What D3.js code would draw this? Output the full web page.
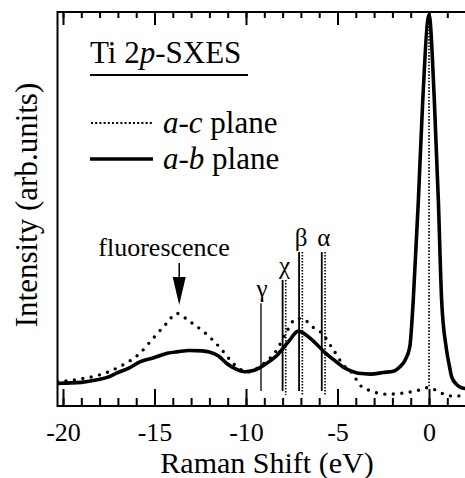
<!DOCTYPE html>
<html>
<head>
<meta charset="utf-8">
<script src="https://cdn.jsdelivr.net/npm/d3@7"></script>
<style>
  body { margin: 0; background: #fff; }
  svg { display: block; }
  text { font-family: "Liberation Serif", "Times New Roman", serif; fill: #000; }
</style>
</head>
<body>
<svg id="chart" width="465" height="478"></svg>
<script>
// a-b plane (solid)
const shiftAB = [-20.3, -20.0, -19.0, -18.2, -17.5, -17.1, -16.4, -15.8, -15.0, -14.3, -13.7, -13.1, -12.4, -12.0, -11.5,
  -11.05, -10.6, -10.05, -9.6, -9.15, -8.7, -8.3, -8.0, -7.6, -7.15, -6.8, -6.5, -6.1, -5.7, -5.2, -4.7, -4.2, -3.85,
  -3.2, -2.5, -1.9, -1.6, -1.3, -1.05, -0.86, -0.58, -0.34, 0, 0.29, 0.51, 0.69, 0.95, 1.1, 1.24, 1.5, 1.7, 2.05];
const intensityAB = [5.7, 5.8, 6.0, 6.6, 7.4, 8.3, 9.6, 11.2, 12.3, 13.4, 13.8, 14.1, 14.0, 13.7, 12.7,
  10.8, 9.5, 8.7, 9.0, 10.0, 11.4, 12.9, 14.5, 16.8, 19.0, 18.3, 17.2, 15.5, 13.6, 11.7, 9.9, 8.8, 8.3,
  8.1, 8.5, 8.9, 9.9, 11.7, 15.0, 26.9, 52.3, 77.7, 99.3, 77.7, 52.3, 26.9, 14.5, 10.5, 7.4, 5.5, 4.8, 4.4];

// a-c plane (dotted)
const shiftAC = [-20.3, -20.0, -18.9, -18.0, -16.9, -15.8, -15.07, -14.33, -13.8, -13.06, -12.33, -11.4, -10.78, -10.42,
  -9.87, -9.14, -8.32, -7.78, -7.23, -6.78, -6.14, -5.96, -5.22, -4.68, -4.2, -3.77, -3.22, -2.31, -1.22, -0.49, 0,
  0.6, 1.33, 2.05];
const intensityAC = [6.2, 6.3, 7.0, 7.9, 10.0, 13.4, 17.2, 21.0, 23.5, 21.4, 18.9, 14.7, 11.2, 9.6,
  8.7, 10.4, 14.2, 18.9, 22.3, 21.8, 19.3, 18.9, 14.2, 10.4, 8.4, 5.3, 3.9, 3.0, 3.4, 4.1, 4.7,
  3.4, 2.5, 2.8];

// marker lines
const markerNames = ['γ', 'χ', 'β', 'α'];
const markerShift = [-9.18, -8.0, -7.1, -5.86];
const markerDottedShift = [null, -7.83, -6.92, -5.68];
const markerTop = [26.1, 32.0, 39.1, 39.1];
const markerBottom = 3.8;

const majorTicks = [-20, -15, -10, -5, 0];
const minorTicks = d3.range(-20, 3, 1);
const xRangeShift = [-20.3, 2.1];

const svg = d3.select('#chart');
const width = +svg.attr('width');

const x = d3.scaleLinear().domain([-20, 0]).range([63, 429]);
const y = d3.scaleLinear().domain([0, 100]).range([406, 12]);

const plotLeft = x(xRangeShift[0]);
const plotRight = width + 2;
const plotTop = y(100);
const plotBottom = y(0);

svg.append('defs').append('clipPath').attr('id', 'plot-clip')
  .append('rect')
  .attr('x', plotLeft)
  .attr('y', plotTop - 4)
  .attr('width', plotRight - plotLeft)
  .attr('height', plotBottom - plotTop + 4);

const plot = svg.append('g').attr('clip-path', 'url(#plot-clip)');

// vertical dotted line at zero loss
plot.append('line')
  .attr('x1', x(0)).attr('x2', x(0))
  .attr('y1', y(98)).attr('y2', y(4.7))
  .attr('stroke', '#000')
  .attr('stroke-width', 1.6)
  .attr('stroke-dasharray', '1.6 1.6');

// marker lines
markerShift.forEach((s, i) => {
  plot.append('line')
    .attr('x1', x(s)).attr('x2', x(s))
    .attr('y1', y(markerTop[i])).attr('y2', y(markerBottom))
    .attr('stroke', '#000')
    .attr('stroke-width', i === 0 ? 1.3 : 1.8);
  if (markerDottedShift[i] !== null) {
    plot.append('line')
      .attr('x1', x(markerDottedShift[i])).attr('x2', x(markerDottedShift[i]))
      .attr('y1', y(markerTop[i])).attr('y2', y(markerBottom - 1))
      .attr('stroke', '#000')
      .attr('stroke-width', 1.6)
      .attr('stroke-dasharray', '1.5 1.5');
  }
  svg.append('text')
    .attr('x', x(s) + (i === 0 ? 1 : 2))
    .attr('y', y(markerTop[i]) - 6)
    .attr('text-anchor', 'middle')
    .style('font-size', '25px')
    .text(markerNames[i]);
});

const line = d3.line()
  .x(d => x(d[0]))
  .y(d => y(d[1]))
  .curve(d3.curveMonotoneX);

plot.append('path')
  .datum(d3.zip(shiftAC, intensityAC))
  .attr('d', line)
  .attr('fill', 'none')
  .attr('stroke', '#000')
  .attr('stroke-width', 3.4)
  .attr('stroke-linecap', 'round')
  .attr('stroke-dasharray', '0 8.5');

plot.append('path')
  .datum(d3.zip(shiftAB, intensityAB))
  .attr('d', line)
  .attr('fill', 'none')
  .attr('stroke', '#000')
  .attr('stroke-width', 3.6)
  .attr('stroke-linejoin', 'round');

// frame
svg.append('line')
  .attr('x1', plotLeft).attr('x2', plotLeft)
  .attr('y1', plotTop - 1).attr('y2', plotBottom + 1)
  .attr('stroke', '#000').attr('stroke-width', 2);

// axes, ticks pointing inward
const bottomMinor = d3.axisBottom(x).tickValues(minorTicks).tickSizeInner(-8).tickSizeOuter(0).tickFormat('');
const bottomMajor = d3.axisBottom(x).tickValues(majorTicks).tickSizeInner(-17).tickSizeOuter(0)
  .tickFormat(d => d === 0 ? '0' : '-' + Math.abs(d));
const topMinor = d3.axisTop(x).tickValues(minorTicks).tickSizeInner(-6).tickSizeOuter(0).tickFormat('');
const topMajor = d3.axisTop(x).tickValues(majorTicks).tickSizeInner(-13).tickSizeOuter(0).tickFormat('');

function styleAxis(g) {
  g.select('.domain').remove();
  g.selectAll('.tick line').attr('stroke', '#000').attr('stroke-width', 2);
}

svg.append('g').attr('transform', `translate(0,${plotBottom})`).call(bottomMinor).call(styleAxis);
const gMajor = svg.append('g').attr('transform', `translate(0,${plotBottom})`).call(bottomMajor).call(styleAxis);
gMajor.selectAll('.tick text')
  .attr('y', 35)
  .attr('dy', 0)
  .attr('fill', '#000')
  .style('font-size', '26px')
  .style('font-family', '"Liberation Serif", "Times New Roman", serif');

svg.append('g').attr('transform', `translate(0,${plotTop})`).call(topMinor).call(styleAxis);
svg.append('g').attr('transform', `translate(0,${plotTop})`).call(topMajor).call(styleAxis);

svg.append('line')
  .attr('x1', plotLeft).attr('x2', plotRight)
  .attr('y1', plotBottom).attr('y2', plotBottom)
  .attr('stroke', '#000').attr('stroke-width', 2.2);
svg.append('line')
  .attr('x1', plotLeft).attr('x2', plotRight)
  .attr('y1', plotTop).attr('y2', plotTop)
  .attr('stroke', '#000').attr('stroke-width', 2.2);

// axis titles
svg.append('text')
  .attr('x', 267)
  .attr('y', 473)
  .attr('text-anchor', 'middle')
  .style('font-size', '30px')
  .text('Raman Shift (eV)');

svg.append('text')
  .attr('transform', 'translate(37,205) rotate(-90)')
  .attr('text-anchor', 'middle')
  .style('font-size', '31px')
  .text('Intensity (arb.units)');

// legend
const legend = svg.append('g');
const title = legend.append('text').attr('x', 90).attr('y', 63).style('font-size', '31px');
title.append('tspan').text('Ti 2');
title.append('tspan').style('font-style', 'italic').text('p');
title.append('tspan').text('-SXES');
legend.append('line')
  .attr('x1', 90).attr('x2', 248)
  .attr('y1', 75).attr('y2', 75)
  .attr('stroke', '#000').attr('stroke-width', 2);

legend.append('line')
  .attr('x1', 91).attr('x2', 153)
  .attr('y1', 123).attr('y2', 123)
  .attr('stroke', '#000').attr('stroke-width', 2)
  .attr('stroke-dasharray', '2 2.2');
const acText = legend.append('text').attr('x', 163).attr('y', 133).style('font-size', '31px');
acText.append('tspan').style('font-style', 'italic').text('a-c');
acText.append('tspan').text(' plane');

legend.append('line')
  .attr('x1', 90).attr('x2', 153)
  .attr('y1', 159).attr('y2', 159)
  .attr('stroke', '#000').attr('stroke-width', 3.6);
const abText = legend.append('text').attr('x', 163).attr('y', 169).style('font-size', '31px');
abText.append('tspan').style('font-style', 'italic').text('a-b');
abText.append('tspan').text(' plane');

// fluorescence annotation
const arrowShift = -13.65;
svg.append('text')
  .attr('x', x(-14.48))
  .attr('y', 256)
  .attr('text-anchor', 'middle')
  .style('font-size', '26px')
  .text('fluorescence');
svg.append('line')
  .attr('x1', x(arrowShift)).attr('x2', x(arrowShift))
  .attr('y1', 263).attr('y2', 282)
  .attr('stroke', '#000').attr('stroke-width', 1.5);
svg.append('path')
  .attr('d', `M${x(arrowShift) - 6.5},277 L${x(arrowShift) + 6.5},277 L${x(arrowShift)},305 Z`)
  .attr('fill', '#000');
</script>
</body>
</html>
